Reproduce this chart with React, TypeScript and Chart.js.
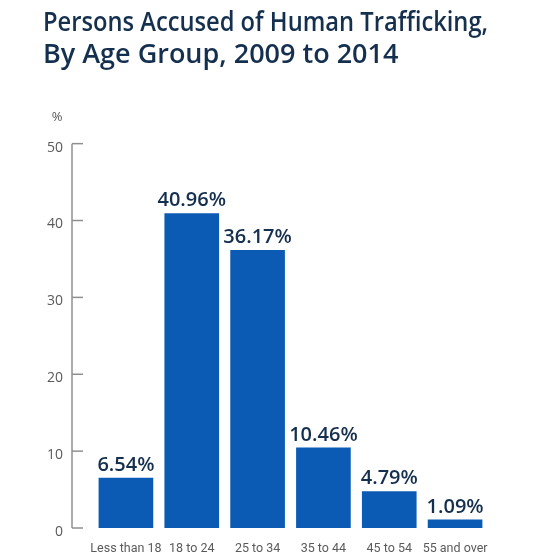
import React, { useEffect, useRef } from "react";
import { Chart, registerables } from "chart.js";

Chart.register(...registerables);

const titleLines = ["Persons Accused of Human Trafficking,", "By Age Group, 2009 to 2014"];
const categories = ["Less than 18", "18 to 24", "25 to 34", "35 to 44", "45 to 54", "55 and over"];
const values = [6.54, 40.96, 36.17, 10.46, 4.79, 1.09];
const valueLabels = ["6.54%", "40.96%", "36.17%", "10.46%", "4.79%", "1.09%"];
const yTicks = [0, 10, 20, 30, 40, 50];
const unitLabel = "%";

const NAVY = "#15304f";
const BLUE = "#0b5bb5";
const AXIS = "#8f8f8f";
const TICK_TEXT = "#5a5a5a";

const decorPlugin = {
  id: "decor",
  afterDatasetsDraw(chart: any) {
    const ctx = chart.ctx;
    const y = chart.scales.y;
    const area = chart.chartArea;
    const axisX = area.left - 21;
    ctx.save();
    // axis line + inward ticks
    ctx.strokeStyle = AXIS;
    ctx.lineWidth = 1.5;
    ctx.beginPath();
    ctx.moveTo(axisX, y.getPixelForValue(yTicks[yTicks.length - 1]));
    ctx.lineTo(axisX, y.getPixelForValue(yTicks[0]));
    ctx.stroke();
    yTicks.forEach((t) => {
      const py = y.getPixelForValue(t);
      ctx.beginPath();
      ctx.moveTo(axisX, py);
      ctx.lineTo(axisX + 11, py);
      ctx.stroke();
    });
    // unit label
    ctx.fillStyle = TICK_TEXT;
    ctx.font = "13px 'Open Sans', sans-serif";
    ctx.textAlign = "center";
    ctx.textBaseline = "middle";
    ctx.fillText(unitLabel, area.left - 36, y.getPixelForValue(50) - 26);
    // value labels
    const meta = chart.getDatasetMeta(0);
    ctx.fillStyle = NAVY;
    ctx.font = "600 20px 'Open Sans', sans-serif";
    ctx.textAlign = "center";
    ctx.textBaseline = "alphabetic";
    meta.data.forEach((bar: any, i: number) => {
      ctx.fillText(valueLabels[i], bar.x, bar.y - 7);
    });
    ctx.restore();
  },
};

export default function App() {
  const ref = useRef<HTMLCanvasElement | null>(null);
  useEffect(() => {
    if (!ref.current) return;
    const chart = new Chart(ref.current, {
      type: "bar",
      data: {
        labels: categories,
        datasets: [
          {
            data: values,
            backgroundColor: BLUE,
            borderWidth: 0,
            barPercentage: 0.83,
            categoryPercentage: 1,
          },
        ],
      },
      options: {
        animation: false,
        responsive: false,
        devicePixelRatio: 1,
        layout: { padding: { left: 43, right: 49, top: 0, bottom: 0 } },
        plugins: {
          legend: { display: false },
          tooltip: { enabled: false },
          title: {
            display: true,
            text: titleLines,
            align: "start",
            color: NAVY,
            font: { family: "'Open Sans', sans-serif", size: 27, weight: "600", lineHeight: 1.16 },
            padding: { top: 8, bottom: 73 },
          },
        },
        scales: {
          x: {
            grid: { display: false, drawTicks: false },
            border: { display: false },
            ticks: {
              color: TICK_TEXT,
              padding: 13,
              maxRotation: 0,
              autoSkip: false,
              font: { family: "Roboto, 'Open Sans', sans-serif", size: 12.5 },
            },
            afterFit: (s: any) => {
              s.height = 28;
              s.paddingLeft = 0;
              s.paddingRight = 0;
            },
          },
          y: {
            min: 0,
            max: 50,
            grid: { display: false, drawTicks: false },
            border: { display: false },
            ticks: {
              stepSize: 10,
              color: TICK_TEXT,
              padding: 30,
              labelOffset: 4,
              font: { family: "'Open Sans', sans-serif", size: 14 },
            },
            afterFit: (s: any) => {
              s.width = 50;
              s.paddingTop = 0;
              s.paddingBottom = 0;
            },
          },
        },
      },
      plugins: [decorPlugin],
    });
    return () => chart.destroy();
  }, []);
  return (
    <div style={{ position: "absolute", left: 0, top: 0, width: 537, height: 556, background: "#fff" }}>
      <canvas ref={ref} width={537} height={556} style={{ display: "block" }} />
    </div>
  );
}
